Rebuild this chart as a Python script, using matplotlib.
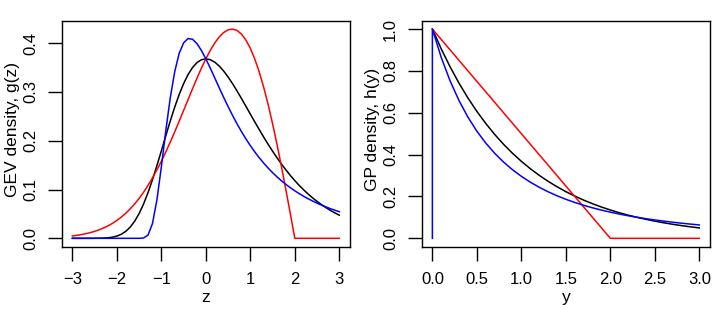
import matplotlib.pyplot as plt
import numpy as np

plt.rcParams['font.family'] = ['Liberation Sans', 'DejaVu Sans']

# GEV densities, z = -3..3 step 0.1
z = np.round(np.arange(-3.0, 3.01, 0.1), 1)
gev_gumbel = [0.0000, 0.0000, 0.0000, 0.0000, 0.0000, 0.0001, 0.0002, 0.0005, 0.0011, 0.0023,
              0.0046, 0.0083, 0.0143, 0.0230, 0.0350, 0.0507, 0.0703, 0.0935, 0.1200, 0.1490,
              0.1793, 0.2102, 0.2404, 0.2688, 0.2946, 0.3170, 0.3356, 0.3500, 0.3601, 0.3660,
              0.3679, 0.3661, 0.3611, 0.3532, 0.3429, 0.3307, 0.3170, 0.3022, 0.2867, 0.2707,
              0.2546, 0.2386, 0.2229, 0.2075, 0.1927, 0.1785, 0.1650, 0.1522, 0.1401, 0.1288,
              0.1182, 0.1083, 0.0992, 0.0907, 0.0829, 0.0756, 0.0690, 0.0628, 0.0572, 0.0521,
              0.0474]
gev_neg = [0.0048, 0.0061, 0.0076, 0.0094, 0.0116, 0.0142, 0.0174, 0.0211, 0.0255, 0.0307,
           0.0366, 0.0435, 0.0514, 0.0604, 0.0705, 0.0818, 0.0945, 0.1084, 0.1237, 0.1402,
           0.1581, 0.1771, 0.1972, 0.2182, 0.2399, 0.2620, 0.2843, 0.3064, 0.3280, 0.3487,
           0.3679, 0.3853, 0.4004, 0.4127, 0.4218, 0.4273, 0.4288, 0.4260, 0.4186, 0.4064,
           0.3894, 0.3675, 0.3409, 0.3096, 0.2742, 0.2349, 0.1922, 0.1467, 0.0990, 0.0499,
           0.0, 0.0, 0.0, 0.0, 0.0, 0.0, 0.0, 0.0, 0.0, 0.0,
           0.0]
gev_pos = [0.0, 0.0, 0.0, 0.0, 0.0, 0.0, 0.0, 0.0, 0.0, 0.0,
           0.0, 0.0, 0.0, 0.0, 0.0, 0.0000, 0.0006, 0.0066, 0.0302, 0.0787,
           0.1465, 0.2205, 0.2879, 0.3414, 0.3789, 0.4006, 0.4094, 0.4080, 0.3991, 0.3851,
           0.3679, 0.3488, 0.3288, 0.3087, 0.2890, 0.2700, 0.2519, 0.2348, 0.2188, 0.2039,
           0.1900, 0.1771, 0.1652, 0.1542, 0.1440, 0.1346, 0.1259, 0.1179, 0.1105, 0.1037,
           0.0974, 0.0915, 0.0861, 0.0811, 0.0764, 0.0721, 0.0680, 0.0643, 0.0608, 0.0576,
           0.0545]

# GP densities, y = 0..3 step 0.1
y = np.round(np.arange(0.0, 3.01, 0.1), 1)
gp_exp = [1.0000, 0.9048, 0.8187, 0.7408, 0.6703, 0.6065, 0.5488, 0.4966, 0.4493, 0.4066,
          0.3679, 0.3329, 0.3012, 0.2725, 0.2466, 0.2231, 0.2019, 0.1827, 0.1653, 0.1496,
          0.1353, 0.1225, 0.1108, 0.1003, 0.0907, 0.0821, 0.0743, 0.0672, 0.0608, 0.0550,
          0.0498]
gp_neg = [1.00, 0.95, 0.90, 0.85, 0.80, 0.75, 0.70, 0.65, 0.60, 0.55,
          0.50, 0.45, 0.40, 0.35, 0.30, 0.25, 0.20, 0.15, 0.10, 0.05,
          0.0, 0.0, 0.0, 0.0, 0.0, 0.0, 0.0, 0.0, 0.0, 0.0,
          0.0]
gp_pos = [1.0000, 0.8638, 0.7513, 0.6575, 0.5787, 0.5120, 0.4552, 0.4064, 0.3644, 0.3280,
          0.2963, 0.2685, 0.2441, 0.2226, 0.2035, 0.1866, 0.1715, 0.1579, 0.1458, 0.1349,
          0.1250, 0.1161, 0.1080, 0.1006, 0.0939, 0.0878, 0.0822, 0.0771, 0.0723, 0.0680,
          0.0640]
# blue curve starts with a vertical stroke from 0 at y = 0
gp_pos_x = np.concatenate([[0.0], y])
gp_pos_y = [0.0] + gp_pos

fig = plt.figure(figsize=(7.2, 3.09), dpi=100)
ax1 = fig.add_axes([0.0857, 0.2016, 0.4004, 0.7315])
ax2 = fig.add_axes([0.5857, 0.2016, 0.4004, 0.7315])

lw = 1.1
fs = 12
ax1.plot(z, gev_gumbel, color='black', lw=lw)
ax1.plot(z, gev_neg, color='red', lw=lw)
ax1.plot(z, gev_pos, color='blue', lw=lw)
ax1.set_xlim(-3.24, 3.24)
ax1.set_ylim(-0.0172, 0.4461)
ax1.set_xticks([-3, -2, -1, 0, 1, 2, 3])
ax1.set_yticks([0.0, 0.1, 0.2, 0.3, 0.4])
ax1.set_yticklabels(['0.0', '0.1', '0.2', '0.3', '0.4'])
ax1.set_xlabel('z')
ax1.set_ylabel('GEV density, g(z)')

ax2.plot(y, gp_exp, color='black', lw=lw)
ax2.plot(y, gp_neg, color='red', lw=lw)
ax2.plot(gp_pos_x, gp_pos_y, color='blue', lw=lw)
ax2.set_xlim(-0.12, 3.12)
ax2.set_ylim(-0.04, 1.04)
ax2.set_xticks([0.0, 0.5, 1.0, 1.5, 2.0, 2.5, 3.0])
ax2.set_xticklabels(['0.0', '0.5', '1.0', '1.5', '2.0', '2.5', '3.0'])
ax2.set_yticks([0.0, 0.2, 0.4, 0.6, 0.8, 1.0])
ax2.set_yticklabels(['0.0', '0.2', '0.4', '0.6', '0.8', '1.0'])
ax2.set_xlabel('y')
ax2.set_ylabel('GP density, h(y)')

for ax in (ax1, ax2):
    for s in ax.spines.values():
        s.set_linewidth(1.0)
    ax.tick_params(axis='both', length=10, width=1.0, labelsize=fs)
    ax.tick_params(axis='x', pad=8)
    ax.tick_params(axis='y', pad=7)
    for lab in ax.get_yticklabels():
        lab.set_rotation(90)
        lab.set_va('center')
    ax.xaxis.label.set_size(12.5)
    ax.yaxis.label.set_size(12.5)
    ax.xaxis.set_label_coords(0.5, -0.225)
    ax.yaxis.set_label_coords(-0.172, 0.52)
    ax.xaxis.label.set_va('center')
    ax.yaxis.label.set_va('center')

fig.savefig('out.png', dpi=100)
